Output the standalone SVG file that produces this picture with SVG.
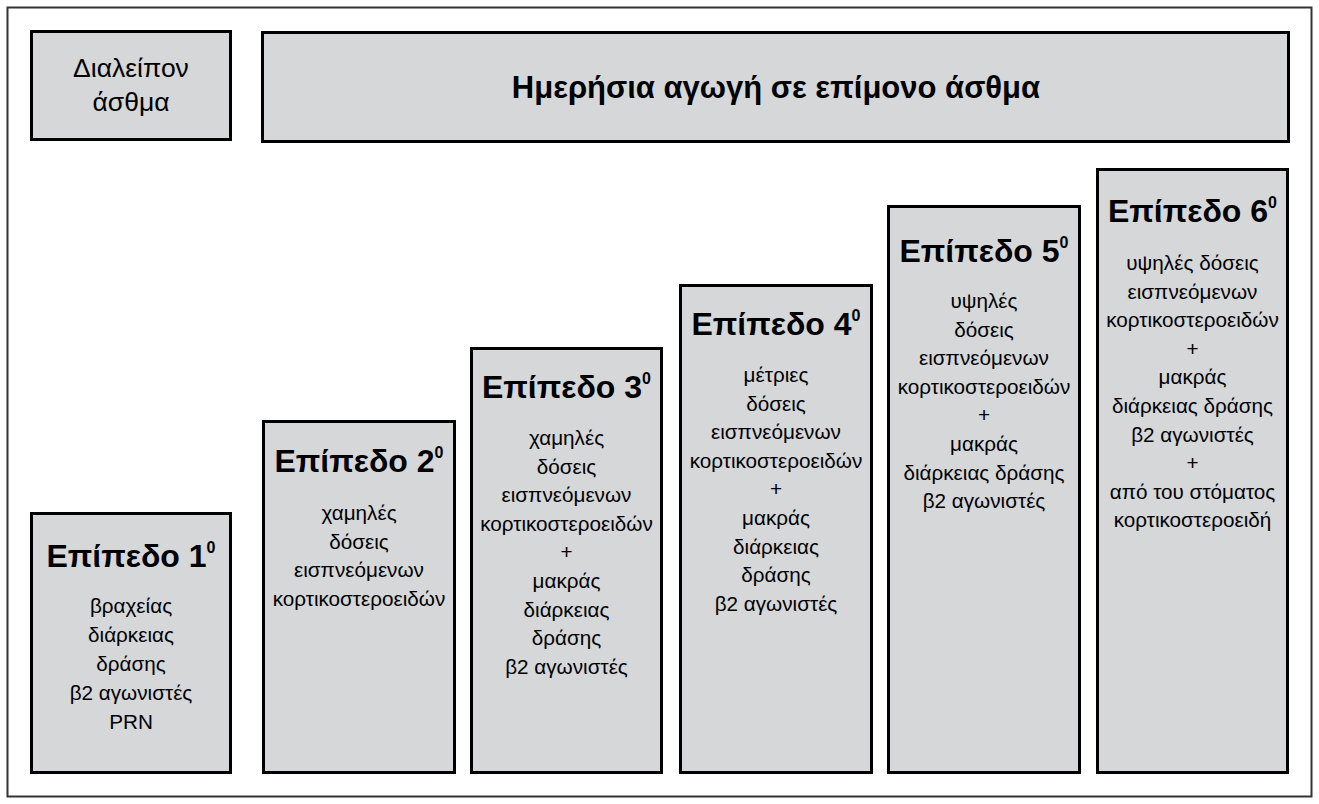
<svg xmlns="http://www.w3.org/2000/svg" width="1319" height="804" viewBox="0 0 1319 804">
<style>
.box{fill:#d6d7d9;stroke:#000;stroke-width:3}
.frame{fill:#fff;stroke:#333;stroke-width:2}
.t{font-family:"Liberation Sans",Arial,sans-serif;fill:#000;text-anchor:middle}
.title{font-size:32px;font-weight:bold}
.sup{font-size:16px;font-weight:bold}
.body{font-size:20.7px}
.head{font-size:31px;font-weight:bold}
.side{font-size:26.5px}
</style>
<rect class="frame" x="7.5" y="7.5" width="1304" height="789"/>
<g id="intermittent">
<rect class="box" x="31.5" y="31.5" width="199" height="108"/>
<text class="t side" x="131" y="77">Διαλείπον</text>
<text class="t side" x="131" y="111">άσθμα</text>
</g>
<g id="persistent">
<rect class="box" x="262.5" y="32.5" width="1026" height="109"/>
<text class="t head" x="776" y="98">Ημερήσια αγωγή σε επίμονο άσθμα</text>
</g>
<g id="level1">
<rect class="box" x="31.5" y="513.5" width="199" height="259"/>
<text class="t title" x="131" y="567">Επίπεδο 1<tspan class="sup" dy="-14">0</tspan></text>
<text class="t body" y="613"><tspan x="131">βραχείας</tspan><tspan x="131" dy="29">διάρκειας</tspan><tspan x="131" dy="29">δράσης</tspan><tspan x="131" dy="29">β2 αγωνιστές</tspan><tspan x="131" dy="29">PRN</tspan></text>
</g>
<g id="level2">
<rect class="box" x="263.5" y="421.5" width="191" height="351"/>
<text class="t title" x="359" y="472">Επίπεδο 2<tspan class="sup" dy="-14">0</tspan></text>
<text class="t body" y="520"><tspan x="359">χαμηλές</tspan><tspan x="359" dy="28.6">δόσεις</tspan><tspan x="359" dy="28.6">εισπνεόμενων</tspan><tspan x="359" dy="28.6">κορτικοστεροειδών</tspan></text>
</g>
<g id="level3">
<rect class="box" x="471.5" y="348.5" width="190" height="424"/>
<text class="t title" x="566.5" y="398">Επίπεδο 3<tspan class="sup" dy="-14">0</tspan></text>
<text class="t body" y="445"><tspan x="566.5">χαμηλές</tspan><tspan x="566.5" dy="28.6">δόσεις</tspan><tspan x="566.5" dy="28.6">εισπνεόμενων</tspan><tspan x="566.5" dy="28.6">κορτικοστεροειδών</tspan><tspan x="566.5" dy="28.6">+</tspan><tspan x="566.5" dy="28.6">μακράς</tspan><tspan x="566.5" dy="28.6">διάρκειας</tspan><tspan x="566.5" dy="28.6">δράσης</tspan><tspan x="566.5" dy="28.6">β2 αγωνιστές</tspan></text>
</g>
<g id="level4">
<rect class="box" x="680.5" y="285.5" width="191" height="487"/>
<text class="t title" x="776" y="335">Επίπεδο 4<tspan class="sup" dy="-14">0</tspan></text>
<text class="t body" y="382"><tspan x="776">μέτριες</tspan><tspan x="776" dy="28.6">δόσεις</tspan><tspan x="776" dy="28.6">εισπνεόμενων</tspan><tspan x="776" dy="28.6">κορτικοστεροειδών</tspan><tspan x="776" dy="28.6">+</tspan><tspan x="776" dy="28.6">μακράς</tspan><tspan x="776" dy="28.6">διάρκειας</tspan><tspan x="776" dy="28.6">δράσης</tspan><tspan x="776" dy="28.6">β2 αγωνιστές</tspan></text>
</g>
<g id="level5">
<rect class="box" x="888.5" y="206.5" width="191" height="566"/>
<text class="t title" x="984" y="262">Επίπεδο 5<tspan class="sup" dy="-14">0</tspan></text>
<text class="t body" y="308"><tspan x="984">υψηλές</tspan><tspan x="984" dy="28.6">δόσεις</tspan><tspan x="984" dy="28.6">εισπνεόμενων</tspan><tspan x="984" dy="28.6">κορτικοστεροειδών</tspan><tspan x="984" dy="28.6">+</tspan><tspan x="984" dy="28.6">μακράς</tspan><tspan x="984" dy="28.6">διάρκειας δράσης</tspan><tspan x="984" dy="28.6">β2 αγωνιστές</tspan></text>
</g>
<g id="level6">
<rect class="box" x="1097.5" y="169.5" width="190" height="603"/>
<text class="t title" x="1192.5" y="222">Επίπεδο 6<tspan class="sup" dy="-14">0</tspan></text>
<text class="t body" y="270"><tspan x="1192.5">υψηλές δόσεις</tspan><tspan x="1192.5" dy="28.6">εισπνεόμενων</tspan><tspan x="1192.5" dy="28.6">κορτικοστεροειδών</tspan><tspan x="1192.5" dy="28.6">+</tspan><tspan x="1192.5" dy="28.6">μακράς</tspan><tspan x="1192.5" dy="28.6">διάρκειας δράσης</tspan><tspan x="1192.5" dy="28.6">β2 αγωνιστές</tspan><tspan x="1192.5" dy="28.6">+</tspan><tspan x="1192.5" dy="28.6">από του στόματος</tspan><tspan x="1192.5" dy="28.6">κορτικοστεροειδή</tspan></text>
</g>
<g id="connectors"></g>
</svg>
